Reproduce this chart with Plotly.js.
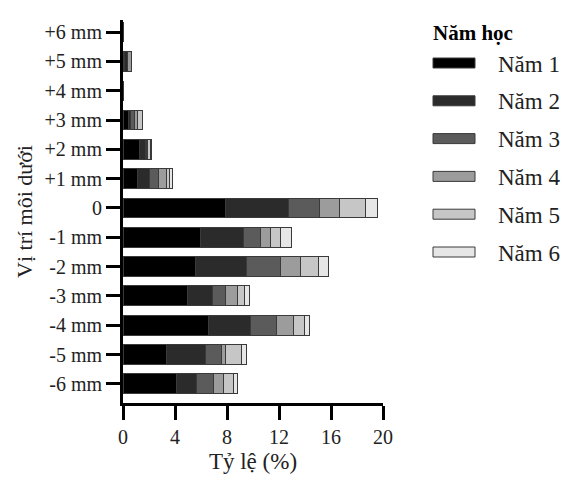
<!DOCTYPE html>
<html>
<head>
<meta charset="utf-8">
<script src="https://cdn.plot.ly/plotly-3.0.1.min.js"></script>
<style>html,body{margin:0;padding:0;background:#fff;}#chart{width:564px;height:477px;}</style>
</head>
<body>
<div id="chart"></div>
<script>
// Categories, top to bottom as in the picture
const positions = ['+6 mm','+5 mm','+4 mm','+3 mm','+2 mm','+1 mm','0','-1 mm','-2 mm','-3 mm','-4 mm','-5 mm','-6 mm'];
const seriesNames = ['Năm 1','Năm 2','Năm 3','Năm 4','Năm 5','Năm 6'];
const seriesColors = ['#000000','#2b2b2b','#5b5b5b','#9c9c9c','#c6c6c6','#e6e6e6'];

// Percent values per school year, in the order of positions
const nam1 = [0, 0.08, 0, 0.40, 1.30, 1.15, 7.85, 5.98, 5.54, 4.95, 6.56, 3.36, 4.08];
const nam2 = [0, 0.25, 0, 0.20, 0.45, 0.92, 4.87, 3.27, 3.97, 1.95, 3.26, 3.00, 1.54];
const nam3 = [0, 0.00, 0, 0.25, 0.05, 0.67, 2.36, 1.29, 2.62, 1.02, 2.00, 1.18, 1.33];
const nam4 = [0, 0.35, 0, 0.25, 0.05, 0.64, 1.56, 0.84, 1.54, 0.90, 1.33, 0.38, 0.77];
const nam5 = [0, 0.00, 0, 0.40, 0.30, 0.20, 2.05, 0.75, 1.36, 0.51, 0.80, 1.21, 0.77];
const nam6 = [0, 0.00, 0, 0.00, 0.05, 0.26, 0.90, 0.85, 0.76, 0.39, 0.43, 0.39, 0.33];
const allSeries = [nam1, nam2, nam3, nam4, nam5, nam6];

const xTicks = [0, 4, 8, 12, 16, 20];

const FONT = 'Liberation Serif, Times New Roman, serif';
const W = 564, H = 477;
const M = {l: 123, r: 181, t: 20, b: 74};
const PW = W - M.l - M.r, PH = H - M.t - M.b;

const traces = allSeries.map((vals, i) => ({
  type: 'bar',
  orientation: 'h',
  name: seriesNames[i],
  y: positions,
  x: vals,
  marker: {color: seriesColors[i], line: {color: '#3a3a3a', width: 1}},
  showlegend: false,
  hoverinfo: 'x+y+name'
}));

// custom legend (swatches + labels)
const px2x = px => (px - M.l) / PW;
const py2y = py => 1 - (py - M.t) / PH;
const shapes = [];
const annotations = [{
  xref: 'paper', yref: 'paper', x: px2x(431), y: py2y(33),
  xanchor: 'left', yanchor: 'middle', showarrow: false,
  text: '<b>Năm học</b>', font: {family: FONT, size: 21, color: '#000'}
}];
seriesNames.forEach((n, i) => {
  const cy = 63 + i * 37.8;
  shapes.push({
    type: 'rect', xref: 'paper', yref: 'paper',
    x0: px2x(433), x1: px2x(475), y0: py2y(cy - 5), y1: py2y(cy + 5),
    fillcolor: seriesColors[i], line: {color: '#3a3a3a', width: 1}
  });
  annotations.push({
    xref: 'paper', yref: 'paper', x: px2x(496), y: py2y(cy + 1),
    xanchor: 'left', yanchor: 'middle', showarrow: false,
    text: n, font: {family: FONT, size: 23, color: '#222'}
  });
});

const layout = {
  width: W, height: H,
  margin: M,
  paper_bgcolor: '#fff', plot_bgcolor: '#fff',
  barmode: 'stack',
  bargap: 0.32,
  font: {family: FONT, color: '#222'},
  xaxis: {
    range: [0, 20], tickvals: xTicks, ticktext: xTicks.map(String),
    showgrid: false, zeroline: false,
    showline: true, linecolor: '#000', linewidth: 3,
    ticks: 'outside', ticklen: 14, tickwidth: 3, tickcolor: '#000',
    tickfont: {family: FONT, size: 20, color: '#222'},
    title: {text: 'Tỷ lệ (%)', font: {family: FONT, size: 23, color: '#222'}, standoff: 6}
  },
  yaxis: {
    type: 'category',
    categoryorder: 'array', categoryarray: positions.slice().reverse(),
    range: [-0.65, 12.41],
    showgrid: false, zeroline: false,
    showline: true, linecolor: '#000', linewidth: 3,
    ticks: 'outside', ticklen: 14, tickwidth: 3, tickcolor: '#000',
    tickfont: {family: FONT, size: 20, color: '#222'},
    title: {text: 'Vị trí môi dưới', font: {family: FONT, size: 22, color: '#222'}, standoff: 6}
  },
  shapes: shapes,
  annotations: annotations
};

Plotly.newPlot('chart', traces, layout, {displayModeBar: false, staticPlot: true});
</script>
</body>
</html>
